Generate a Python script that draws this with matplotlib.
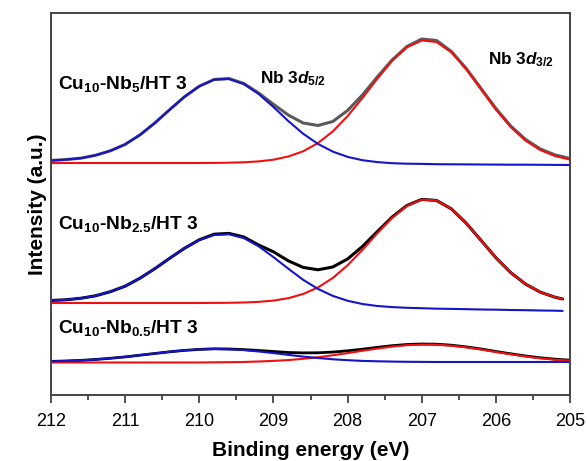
import numpy as np
import matplotlib
matplotlib.use("Agg")
import matplotlib.pyplot as plt
from matplotlib.ticker import MultipleLocator

plt.rcParams['font.family'] = ['Liberation Sans', 'DejaVu Sans']
plt.rcParams['mathtext.fontset'] = 'custom'
plt.rcParams['mathtext.rm'] = 'Liberation Sans:bold'
plt.rcParams['mathtext.bf'] = 'Liberation Sans:bold'
plt.rcParams['mathtext.it'] = 'Liberation Sans:bold:italic'
plt.rcParams['lines.solid_joinstyle'] = 'round'
plt.rcParams['lines.solid_capstyle'] = 'round'

# binding energy grid (eV), 212 -> 205
energy = [212.0, 211.8, 211.6, 211.4, 211.2, 211.0, 210.8, 210.6, 210.4, 210.2,
          210.0, 209.8, 209.6, 209.4, 209.2, 209.0, 208.8, 208.6, 208.4, 208.2,
          208.0, 207.8, 207.6, 207.4, 207.2, 207.0, 206.8, 206.6, 206.4, 206.2,
          206.0, 205.8, 205.6, 205.4, 205.2, 205.0]
# middle spectrum stops a little before 205
energy_mid = energy[:-1] + [205.1]

# Cu10-Nb5/HT 3 (top, offset)
nb5_total = [234.5, 235.4, 236.8, 239.7, 244.2, 250.6, 260.1, 272.0, 285.3, 298.2,
             308.8, 315.5, 316.5, 311.5, 302.0, 290.7, 280.0, 272.0, 269.5, 273.5,
             284.5, 300.0, 318.0, 335.0, 348.5, 356.0, 354.5, 343.5, 326.5, 306.5,
             286.5, 269.0, 255.5, 246.0, 240.0, 236.5]
nb5_d52 = [234.5, 235.4, 236.8, 239.7, 244.2, 250.6, 260.1, 272.0, 285.3, 298.2,
           308.8, 315.4, 316.0, 311.0, 301.0, 288.0, 274.0, 261.3, 251.1, 243.4,
           238.1, 234.8, 232.9, 231.8, 231.3, 231.1, 230.8, 230.7, 230.6, 230.5,
           230.4, 230.3, 230.3, 230.2, 230.1, 230.0]
nb5_d32 = [232.0, 232.0, 232.0, 232.0, 232.0, 232.0, 232.0, 232.0, 232.0, 232.0,
           232.0, 232.1, 232.3, 232.7, 233.6, 235.3, 238.5, 243.7, 251.9, 263.6,
           278.9, 297.0, 316.2, 334.1, 347.7, 354.5, 353.0, 342.7, 325.8, 305.6,
           285.4, 267.9, 254.4, 244.9, 238.9, 235.4]

# Cu10-Nb2.5/HT 3 (middle)
nb25_total = [94.5, 95.2, 96.7, 99.2, 103.3, 108.8, 116.8, 126.3, 136.7, 146.7,
              155.2, 160.8, 161.6, 158.0, 150.0, 143.2, 134.2, 127.6, 125.2, 128.0,
              136.0, 148.5, 163.3, 177.9, 189.5, 195.6, 194.5, 186.1, 171.8, 154.6,
              137.3, 122.4, 110.9, 102.8, 97.7, 96.0]
nb25_d52 = [94.5, 95.2, 96.7, 99.2, 103.3, 108.8, 116.8, 126.3, 136.7, 146.7,
            154.9, 160.0, 160.7, 156.9, 148.7, 137.9, 126.3, 115.2, 106.1, 99.1,
            94.2, 91.0, 89.0, 87.9, 87.2, 86.8, 86.3, 86.1, 85.8, 85.5,
            85.3, 85.0, 84.8, 84.5, 84.3, 84.1]
nb25_d32 = [92.0, 92.0, 92.0, 92.0, 92.0, 92.0, 92.0, 92.0, 92.0, 92.0,
            92.0, 92.1, 92.2, 92.5, 93.1, 94.4, 96.8, 101.0, 107.5, 117.0,
            129.7, 145.1, 161.6, 177.1, 189.1, 195.4, 194.5, 186.1, 171.8, 154.6,
            137.3, 122.4, 110.9, 102.8, 97.7, 96.0]

# Cu10-Nb0.5/HT 3 (bottom)
nb05_total = [33.6, 34.0, 34.6, 35.5, 36.7, 38.1, 39.8, 41.5, 43.2, 44.6,
              45.6, 46.2, 46.0, 45.4, 44.5, 43.5, 42.5, 42.1, 42.2, 42.9,
              44.2, 45.8, 47.6, 49.3, 50.5, 51.0, 50.8, 49.8, 48.1, 46.0,
              43.5, 41.2, 39.0, 37.2, 35.8, 34.8]
nb05_d52 = [33.6, 34.0, 34.6, 35.5, 36.7, 38.1, 39.8, 41.5, 43.2, 44.6,
            45.6, 46.0, 45.7, 44.9, 43.5, 41.9, 40.1, 38.4, 37.0, 35.7,
            34.8, 34.1, 33.7, 33.4, 33.2, 33.1, 33.0, 33.0, 33.0, 33.0,
            33.0, 33.0, 33.0, 33.0, 33.0, 33.0]
nb05_d32 = [32.5, 32.5, 32.5, 32.5, 32.5, 32.5, 32.5, 32.5, 32.5, 32.5,
            32.5, 32.7, 32.8, 33.0, 33.5, 34.1, 34.9, 36.2, 37.7, 39.7,
            41.9, 44.2, 46.4, 48.4, 49.8, 50.4, 50.3, 49.3, 47.6, 45.5,
            43.0, 40.7, 38.5, 36.7, 35.3, 34.3]

xticks = [212, 211, 210, 209, 208, 207, 206, 205]

blue = '#1414c8'
red = '#f01010'
lw = 1.5

fig = plt.figure(figsize=(5.87, 4.61), dpi=100)
ax = fig.add_axes([0.0869, 0.1432, 0.8842, 0.8286])

# envelopes first, components on top
ax.plot(energy, nb5_total, color='#5a5a5a', lw=2.2)
ax.plot(energy, nb5_d32, color=red, lw=lw)
ax.plot(energy, nb5_d52, color=blue, lw=lw)

ax.plot(energy_mid, nb25_total, color='black', lw=2.2)
ax.plot(energy_mid, nb25_d32, color=red, lw=lw)
ax.plot(energy_mid, nb25_d52, color=blue, lw=lw)

ax.plot(energy, nb05_total, color='black', lw=2.0)
ax.plot(energy, nb05_d32, color=red, lw=lw)
ax.plot(energy, nb05_d52, color=blue, lw=lw)

ax.set_xlim(212, 205)
ax.set_ylim(0, 382)
ax.set_xticks(xticks)
ax.xaxis.set_minor_locator(MultipleLocator(0.5))
ax.set_yticks([])
ax.tick_params(axis='x', which='major', direction='out', length=6, width=1.2,
               labelsize=13, pad=7, color='#333333')
ax.tick_params(axis='x', which='minor', direction='out', length=3.5, width=1.2,
               color='#333333')
for s in ax.spines.values():
    s.set_color('#444444')
    s.set_linewidth(1.4)

ax.set_xlabel('Binding energy (eV)', fontsize=15, fontweight='bold', labelpad=8)
ax.set_ylabel('Intensity (a.u.)', fontsize=15, fontweight='bold', labelpad=3)

# sample and peak labels
ax.text(211.9, 306, r'Cu$_{10}$-Nb$_{5}$/HT 3', fontsize=13.8, fontweight='bold')
ax.text(211.9, 166, r'Cu$_{10}$-Nb$_{2.5}$/HT 3', fontsize=13.8, fontweight='bold')
ax.text(211.9, 62, r'Cu$_{10}$-Nb$_{0.5}$/HT 3', fontsize=13.8, fontweight='bold')
ax.text(209.18, 312, r'Nb 3$d_{\mathit{5/2}}$', fontsize=12.3, fontweight='bold')
ax.text(206.11, 331, r'Nb 3$d_{\mathit{3/2}}$', fontsize=12.3, fontweight='bold')

fig.savefig('out.png', dpi=100)
